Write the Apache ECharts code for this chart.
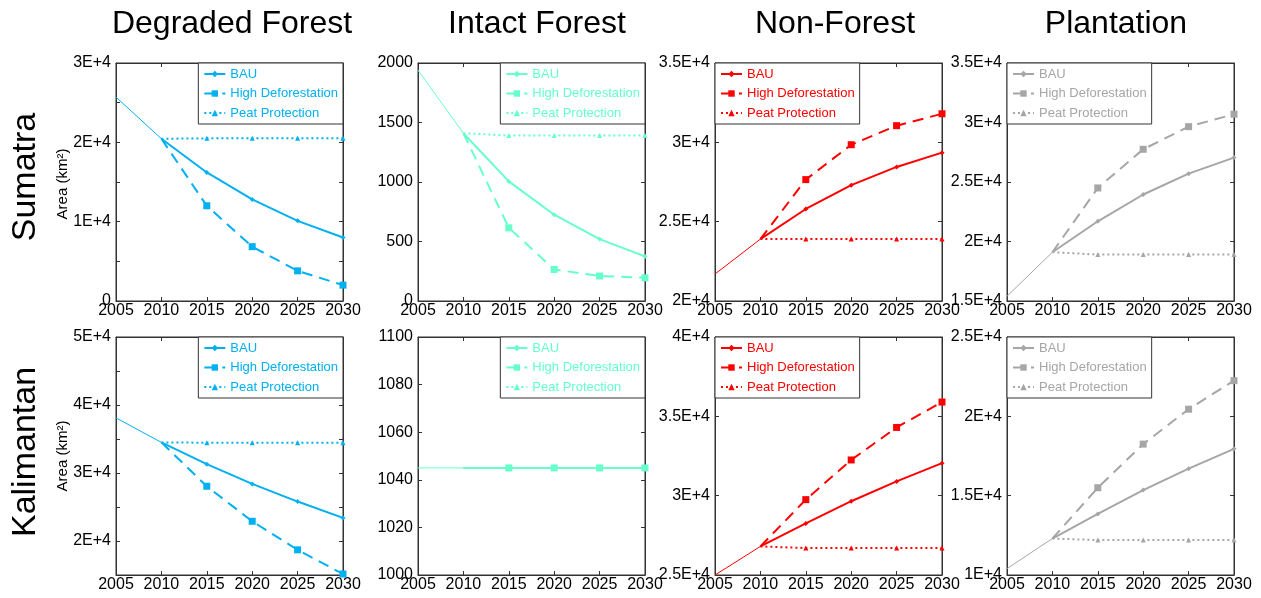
<!DOCTYPE html>
<html><head><meta charset="utf-8">
<script src="https://cdn.jsdelivr.net/npm/echarts/dist/echarts.min.js"></script>
<style>html,body{margin:0;padding:0;background:#fff}#c{width:1261px;height:598px}</style>
</head><body><div id="c"></div>
<script>
// ---------- data ----------
const histYears = [2005, 2010];
const scenarioYears = [2010, 2015, 2020, 2025, 2030];
const scenarioNames = ['BAU', 'High Deforestation', 'Peat Protection'];
const landCovers = ['Degraded Forest', 'Intact Forest', 'Non-Forest', 'Plantation'];
const islands = ['Sumatra', 'Kalimantan'];
const xTicks = [2005, 2010, 2015, 2020, 2025, 2030];

// Sumatra
const sumDegHist = [25700, 20450];
const sumDegBAU  = [20450, 16200, 12800, 10100, 8000];
const sumDegHigh = [20450, 12000, 6850, 3800, 2000];
const sumDegPeat = [20450, 20500, 20500, 20500, 20500];
const sumDegY = [0, 30000, 5000, 10000];      // min, max, tick step, label step

const sumIntHist = [1940, 1410];
const sumIntBAU  = [1410, 1005, 725, 520, 375];
const sumIntHigh = [1410, 615, 265, 210, 195];
const sumIntPeat = [1410, 1390, 1390, 1390, 1390];
const sumIntY = [0, 2000, 500, 500];

const sumNonHist = [21700, 23900];
const sumNonBAU  = [23900, 25800, 27300, 28450, 29350];
const sumNonHigh = [23900, 27650, 29850, 31050, 31800];
const sumNonPeat = [23900, 23900, 23900, 23900, 23900];
const sumNonY = [20000, 35000, 5000, 5000];

const sumPlaHist = [15400, 19100];
const sumPlaBAU  = [19100, 21700, 23950, 25700, 27050];
const sumPlaHigh = [19100, 24500, 27750, 29650, 30700];
const sumPlaPeat = [19100, 18900, 18900, 18900, 18900];
const sumPlaY = [15000, 35000, 5000, 5000];

// Kalimantan
const kalDegHist = [38100, 34500];
const kalDegBAU  = [34500, 31300, 28400, 25800, 23400];
const kalDegHigh = [34500, 28050, 22900, 18700, 15150];
const kalDegPeat = [34500, 34450, 34450, 34450, 34450];
const kalDegY = [15000, 50000, 5000, 10000];

const kalIntHist = [1045, 1045];
const kalIntBAU  = [1045, 1045, 1045, 1045, 1045];
const kalIntHigh = [1045, 1045, 1045, 1045, 1045];
const kalIntPeat = [1045, 1045, 1045, 1045, 1045];
const kalIntY = [1000, 1100, 20, 20];

const kalNonHist = [25000, 26800];
const kalNonBAU  = [26800, 28250, 29650, 30900, 32050];
const kalNonHigh = [26800, 29750, 32250, 34300, 35900];
const kalNonPeat = [26800, 26700, 26700, 26700, 26700];
const kalNonY = [25000, 40000, 5000, 5000];

const kalPlaHist = [10400, 12300];
const kalPlaBAU  = [12300, 13850, 15350, 16700, 17950];
const kalPlaHigh = [12300, 15500, 18250, 20450, 22250];
const kalPlaPeat = [12300, 12200, 12200, 12200, 12200];
const kalPlaY = [10000, 25000, 5000, 5000];

// ---------- styles / layout ----------
const colors = ['#00B0F0', '#66FFCC', '#FF0000', '#A6A6A6'];
const FONT = '"Liberation Sans", Arial, Helvetica, sans-serif';
const gridLefts = [116, 418, 715, 1007];
const gridTops = [63, 337];
const gridW = 227, gridH = 238;
const W = 1261;

const panelData = [
  [sumDegHist, sumDegBAU, sumDegHigh, sumDegPeat, sumDegY],
  [sumIntHist, sumIntBAU, sumIntHigh, sumIntPeat, sumIntY],
  [sumNonHist, sumNonBAU, sumNonHigh, sumNonPeat, sumNonY],
  [sumPlaHist, sumPlaBAU, sumPlaHigh, sumPlaPeat, sumPlaY],
  [kalDegHist, kalDegBAU, kalDegHigh, kalDegPeat, kalDegY],
  [kalIntHist, kalIntBAU, kalIntHigh, kalIntPeat, kalIntY],
  [kalNonHist, kalNonBAU, kalNonHigh, kalNonPeat, kalNonY],
  [kalPlaHist, kalPlaBAU, kalPlaHigh, kalPlaPeat, kalPlaY]
];

function fmtY(v, step) {
  if (Math.round(v) % step !== 0) return '';
  if (v === 0) return '0';
  if (v >= 10000) return (v / 10000) + 'E+4';
  return String(v);
}

const grid = [], xAxis = [], yAxis = [], series = [], legend = [], graphic = [];
const AX = '#333';

panelData.forEach((p, i) => {
  const row = Math.floor(i / 4), col = i % 4;
  const color = colors[col];
  const [hist, bau, high, peat, yc] = p;
  grid.push({left: gridLefts[col], top: gridTops[row], width: gridW, height: gridH,
    show: true, borderColor: AX, borderWidth: 1, backgroundColor: 'transparent'});
  const xi = xAxis.length, yi = yAxis.length;
  const xBase = {type: 'value', gridIndex: i, min: xTicks[0], max: xTicks[xTicks.length - 1], interval: 5,
    splitLine: {show: false}, axisLine: {show: true, onZero: false, lineStyle: {color: AX}},
    axisTick: {show: true, inside: true, length: 4, lineStyle: {color: AX}}};
  xAxis.push(Object.assign({}, xBase, {position: 'bottom',
    axisLabel: {show: true, color: '#000', fontSize: 16, fontFamily: FONT, margin: 2,
      showMinLabel: true, showMaxLabel: true, hideOverlap: false,
      formatter: (v) => String(v)}}));
  xAxis.push(Object.assign({}, xBase, {position: 'top', axisLabel: {show: false}}));
  const yBase = {type: 'value', gridIndex: i, min: yc[0], max: yc[1], interval: yc[2],
    splitLine: {show: false}, axisLine: {show: true, onZero: false, lineStyle: {color: AX}},
    axisTick: {show: true, inside: true, length: 4, lineStyle: {color: AX}}};
  yAxis.push(Object.assign({}, yBase, {position: 'left',
    axisLabel: {show: true, color: '#000', fontSize: 16, fontFamily: FONT, margin: 5,
      showMinLabel: true, showMaxLabel: true, hideOverlap: false,
      formatter: (v) => fmtY(v, yc[3])}}));
  yAxis.push(Object.assign({}, yBase, {position: 'right', axisLabel: {show: false}}));

  const pts = (xs, ys) => xs.map((x, k) => [x, ys[k]]);
  const scen = (xs, ys) => xs.map((x, k) => k === 0 ? {value: [x, ys[k]], symbol: 'none'} : [x, ys[k]]);
  const common = {type: 'line', xAxisIndex: xi, yAxisIndex: yi, color: color, animation: false,
    itemStyle: {color: color}, emphasis: {disabled: true}};
  series.push(Object.assign({}, common, {name: 'hist#' + i, data: pts(histYears, hist),
    symbol: 'none', lineStyle: {color: color, width: 1}}));
  series.push(Object.assign({}, common, {name: scenarioNames[0] + '#' + i, data: scen(scenarioYears, bau),
    symbol: 'diamond', symbolSize: 5, lineStyle: {color: color, width: 2}}));
  series.push(Object.assign({}, common, {name: scenarioNames[2] + '#' + i, data: scen(scenarioYears, peat),
    symbol: 'triangle', symbolSize: 5, lineStyle: {color: color, width: 2, type: [2, 3]}}));
  series.push(Object.assign({}, common, {name: scenarioNames[1] + '#' + i, data: scen(scenarioYears, high),
    symbol: 'rect', symbolSize: 7, lineStyle: {color: color, width: 2, type: [11, 7]}}));

  const lg = {orient: 'vertical', top: gridTops[row], selectedMode: false,
    data: scenarioNames.map(n => n + '#' + i),
    formatter: (name) => name.split('#')[0],
    backgroundColor: '#fff', borderColor: '#333', borderWidth: 1, borderRadius: 0,
    padding: [4, 5, 4, 5], itemGap: 5.5, itemWidth: 21, itemHeight: 8,
    textStyle: {color: color, fontSize: 13, fontFamily: FONT, lineHeight: 14}, z: 10};
  if (col < 2) lg.right = W - (gridLefts[col] + gridW); else lg.left = gridLefts[col];
  legend.push(lg);
});

// titles
const titleCenters = [232, 537, 835, 1116];
landCovers.forEach((t, c) => {
  graphic.push({type: 'text', x: titleCenters[c], y: 24,
    style: {text: t, font: '32px ' + FONT, fill: '#000', textAlign: 'center', textVerticalAlign: 'middle'}});
});
// row labels
const rowCenters = [177, 452];
islands.forEach((t, r) => {
  graphic.push({type: 'text', x: 26, y: rowCenters[r], rotation: Math.PI / 2,
    style: {text: t, font: '34px ' + FONT, fill: '#000', textAlign: 'center', textVerticalAlign: 'middle'}});
  graphic.push({type: 'text', x: 63, y: [184, 456][r], rotation: Math.PI / 2,
    style: {text: 'Area (km²)', font: '15px ' + FONT, fill: '#000', textAlign: 'center', textVerticalAlign: 'middle'}});
});

const chart = echarts.init(document.getElementById('c'), null, {renderer: 'canvas'});
chart.setOption({animation: false, backgroundColor: '#fff', grid, xAxis, yAxis, series, legend, graphic,
  tooltip: {show: false}});
</script></body></html>
